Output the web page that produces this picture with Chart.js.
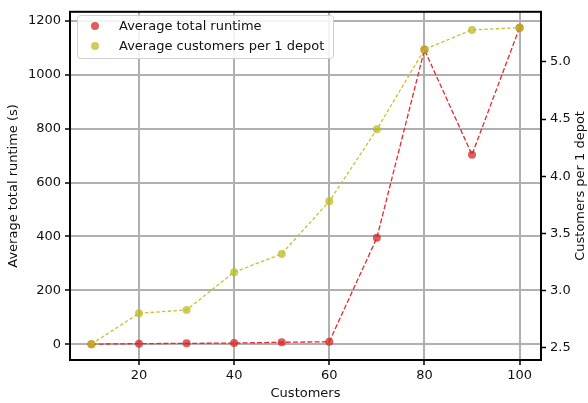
<!DOCTYPE html>
<html><head><meta charset="utf-8">
<script src="https://cdn.jsdelivr.net/npm/chart.js@4/dist/chart.umd.min.js"></script>
<style>html,body{margin:0;padding:0;background:#fff}#wrap{width:588px;height:403px}</style>
</head><body><div id="wrap"><canvas id="c" width="588" height="403"></canvas></div>
<script>
const customers = [10, 20, 30, 40, 50, 60, 70, 80, 90, 100];
const runtime = [1, 3, 4, 5, 8, 10, 395, 1092, 703, 1174];
const perDepot = [2.53, 2.80, 2.83, 3.16, 3.32, 3.78, 4.41, 5.11, 5.28, 5.30];
const xTicks = [20, 40, 60, 80, 100];
const leftTicks = [0, 200, 400, 600, 800, 1000, 1200];
const rightTicks = [2.5, 3.0, 3.5, 4.0, 4.5, 5.0];
const legendLabels = ['Average total runtime', 'Average customers per 1 depot'];
const rightTitle = 'Customers per 1 depot';

const FONT = 'DejaVu Sans';
const TXT = '#111';
const RED_PT = 'rgba(214,39,40,0.75)';
const RED_LN = '#e62a2e';
const YEL_PT = 'rgba(188,189,34,0.75)';
const YEL_LN = '#c9c22a';

function pad(arr, frac) { const mn = Math.min(...arr), mx = Math.max(...arr), r = mx - mn; return [mn - r * frac, mx + r * frac]; }
const [xMin, xMax] = pad(customers, 0.05);
const [lMin, lMax] = pad(runtime, 0.05);
const [rMin, rMax] = pad(perDepot, 0.05);

const framePlugin = {
  id: 'frame',
  afterDraw(chart) {
    const {ctx, chartArea: a} = chart;
    ctx.save();
    ctx.strokeStyle = '#000';
    ctx.lineWidth = 2;
    ctx.strokeRect(a.left, a.top, a.right - a.left, a.bottom - a.top);
    // right axis title (reads bottom to top)
    ctx.font = '13px "' + FONT + '"';
    ctx.fillStyle = TXT;
    ctx.save();
    ctx.translate(581, (a.top + a.bottom) / 2);
    ctx.rotate(-Math.PI / 2);
    ctx.textAlign = 'center'; ctx.textBaseline = 'middle';
    ctx.fillText(rightTitle, 0, 0);
    ctx.restore();
    // legend
    const bx = 77, by = 15, bw = 256, bh = 43;
    ctx.fillStyle = 'rgba(255,255,255,0.85)';
    ctx.strokeStyle = '#d0d0d0';
    ctx.lineWidth = 1;
    ctx.beginPath();
    ctx.roundRect(bx + 0.5, by + 0.5, bw, bh, 3);
    ctx.fill(); ctx.stroke();
    const cols = [RED_PT, YEL_PT];
    ctx.textBaseline = 'middle';
    ctx.textAlign = 'left';
    legendLabels.forEach((t, i) => {
      const cy = 26 + i * 20;
      ctx.fillStyle = cols[i];
      ctx.beginPath(); ctx.arc(95, cy, 4, 0, Math.PI * 2); ctx.fill();
      ctx.fillStyle = TXT;
      ctx.fillText(t, 119, cy + 0.5);
    });
    ctx.restore();
  }
};

const tickFont = {family: FONT, size: 13};
new Chart(document.getElementById('c'), {
  type: 'line',
  data: {
    datasets: [
      {
        label: legendLabels[0], yAxisID: 'y', order: 2,
        data: customers.map((c, i) => ({x: c, y: runtime[i]})),
        borderColor: RED_LN, borderWidth: 1.3, borderDash: [5, 2.2],
        pointBackgroundColor: RED_PT, pointBorderWidth: 0, pointRadius: 4, tension: 0
      },
      {
        label: legendLabels[1], yAxisID: 'y2', order: 1,
        data: customers.map((c, i) => ({x: c, y: perDepot[i]})),
        borderColor: YEL_LN, borderWidth: 1.3, borderDash: [3.5, 2.2],
        pointBackgroundColor: YEL_PT, pointBorderWidth: 0, pointRadius: 4, tension: 0
      }
    ]
  },
  options: {
    responsive: false, animation: false,
    layout: {padding: {top: 10, left: 0, right: 0, bottom: 0}},
    plugins: {legend: {display: false}, tooltip: {enabled: false}},
    scales: {
      x: {
        type: 'linear', position: 'bottom', min: xMin, max: xMax,
        afterBuildTicks: s => { s.ticks = xTicks.map(v => ({value: v})); },
        afterFit: s => { s.height = 43; },
        grid: {color: '#b0b0b0', lineWidth: 2, tickColor: '#000', tickLength: 5, tickWidth: 1.5},
        border: {display: false},
        ticks: {font: tickFont, color: TXT, padding: 3, maxRotation: 0, callback: v => String(v)},
        title: {display: true, text: 'Customers', font: tickFont, color: TXT, padding: {top: 0, bottom: 2}}
      },
      y: {
        type: 'linear', position: 'left', min: lMin, max: lMax,
        afterBuildTicks: s => { s.ticks = leftTicks.map(v => ({value: v})); },
        afterFit: s => { s.width = 70; },
        grid: {color: '#b0b0b0', lineWidth: 2, tickColor: '#000', tickLength: 5, tickWidth: 1.5},
        border: {display: false},
        ticks: {font: tickFont, color: TXT, padding: 4, callback: v => String(v)},
        title: {display: true, text: 'Average total runtime (s)', font: tickFont, color: TXT, padding: {top: 6, bottom: 0}}
      },
      y2: {
        type: 'linear', position: 'right', min: rMin, max: rMax,
        afterBuildTicks: s => { s.ticks = rightTicks.map(v => ({value: v})); },
        afterFit: s => { s.width = 47; },
        grid: {drawOnChartArea: false, tickColor: '#000', tickLength: 5, tickWidth: 1.5},
        border: {display: false},
        ticks: {font: tickFont, color: TXT, padding: 4, callback: v => Number(v).toFixed(1)},
        title: {display: false}
      }
    }
  },
  plugins: [framePlugin]
});
</script></body></html>
